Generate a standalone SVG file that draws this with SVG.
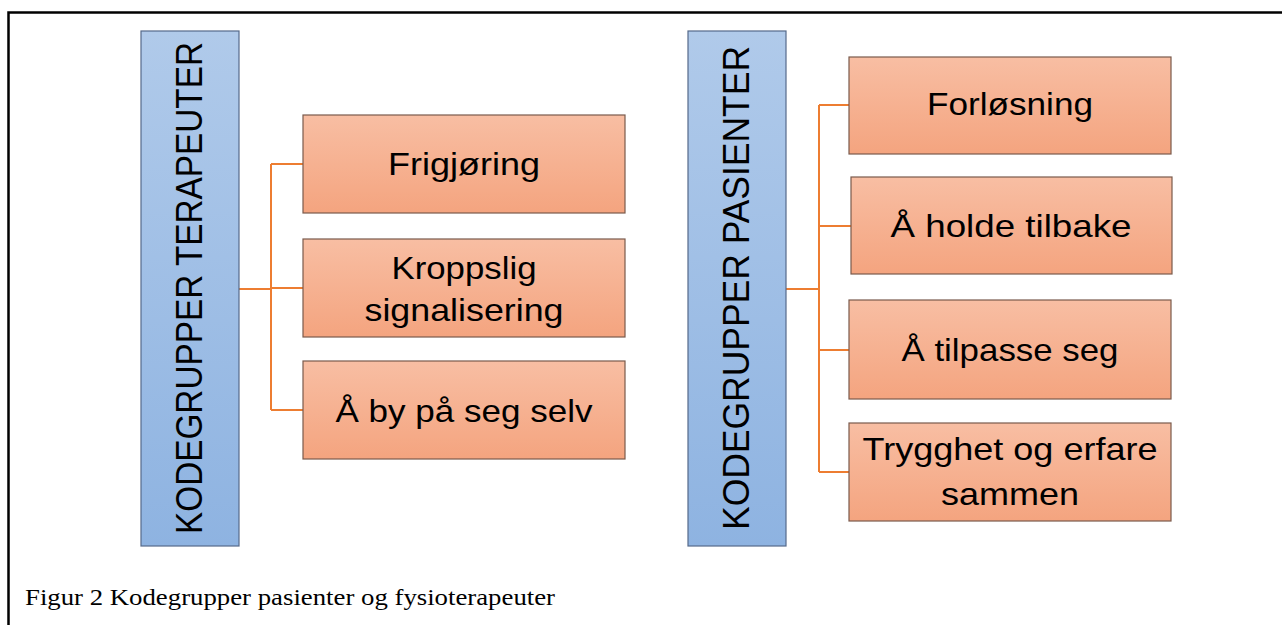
<svg xmlns="http://www.w3.org/2000/svg" width="1282" height="625" viewBox="0 0 1282 625">
<defs>
<linearGradient id="gOr" x1="0" y1="0" x2="0" y2="1"><stop offset="0" stop-color="#F8BEA3"/><stop offset="1" stop-color="#F4A47F"/></linearGradient>
<linearGradient id="gBl" x1="0" y1="0" x2="0" y2="1"><stop offset="0" stop-color="#B0CAEA"/><stop offset="1" stop-color="#8EB3E1"/></linearGradient>
<style>
.or{fill:url(#gOr);stroke:#7A5A4C;stroke-width:1.2}
.bl{fill:url(#gBl);stroke:#55698A;stroke-width:1.2}
.t{font-family:"Liberation Sans",Arial,sans-serif;font-size:32px;fill:#000;text-anchor:middle}
.v{font-family:"Liberation Sans",Arial,sans-serif;font-size:36px;fill:#000;text-anchor:middle}
.c{fill:none;stroke:#ED7D31;stroke-width:2}
.cap{font-family:"Liberation Serif","Times New Roman",serif;font-size:24px;fill:#000}
</style>
</defs>
<rect width="1282" height="625" fill="#fff"/>
<path d="M8.5,625 V12.5 H1282" fill="none" stroke="#000" stroke-width="2.5"/>
<g id="connectors">
<path class="c" d="M239,289 H271 M271,164 V410 M271,164 H303 M271,288 H303 M271,410 H303"/>
<path class="c" d="M786,289 H819 M819,105 V472 M819,105 H849 M819,226 H851 M819,350 H849 M819,472 H849"/>
</g>
<g id="terapeuter">
<rect class="bl" x="141" y="31" width="98" height="515"/>
<text class="v" transform="translate(202,288) rotate(-90)" textLength="492" lengthAdjust="spacingAndGlyphs">KODEGRUPPER TERAPEUTER</text>
</g>
<g id="frigjoring">
<rect class="or" x="303" y="115" width="322" height="98"/>
<text class="t" x="464" y="175" textLength="152" lengthAdjust="spacingAndGlyphs">Frigjøring</text>
</g>
<g id="kroppslig">
<rect class="or" x="303" y="239" width="322" height="98"/>
<text class="t" x="464" y="279" textLength="145" lengthAdjust="spacingAndGlyphs">Kroppslig</text>
<text class="t" x="464" y="321" textLength="199" lengthAdjust="spacingAndGlyphs">signalisering</text>
</g>
<g id="aby">
<rect class="or" x="303" y="361" width="322" height="98"/>
<text class="t" x="464" y="422" textLength="257" lengthAdjust="spacingAndGlyphs">Å by på seg selv</text>
</g>
<g id="pasienter">
<rect class="bl" x="688" y="31" width="98" height="515"/>
<text class="v" transform="translate(749,288) rotate(-90)" textLength="484" lengthAdjust="spacingAndGlyphs">KODEGRUPPER PASIENTER</text>
</g>
<g id="forlosning">
<rect class="or" x="849" y="57" width="322" height="97"/>
<text class="t" x="1010" y="115" textLength="166" lengthAdjust="spacingAndGlyphs">Forløsning</text>
</g>
<g id="holde">
<rect class="or" x="851" y="177" width="321" height="97"/>
<text class="t" x="1011" y="237" textLength="241" lengthAdjust="spacingAndGlyphs">Å holde tilbake</text>
</g>
<g id="tilpasse">
<rect class="or" x="849" y="300" width="322" height="99"/>
<text class="t" x="1010" y="361" textLength="217" lengthAdjust="spacingAndGlyphs">Å tilpasse seg</text>
</g>
<g id="trygghet">
<rect class="or" x="849" y="423" width="322" height="98"/>
<text class="t" x="1010" y="460" textLength="295" lengthAdjust="spacingAndGlyphs">Trygghet og erfare</text>
<text class="t" x="1010" y="505" textLength="138" lengthAdjust="spacingAndGlyphs">sammen</text>
</g>
<text class="cap" x="25" y="605" textLength="530" lengthAdjust="spacingAndGlyphs">Figur 2 Kodegrupper pasienter og fysioterapeuter</text>
</svg>
